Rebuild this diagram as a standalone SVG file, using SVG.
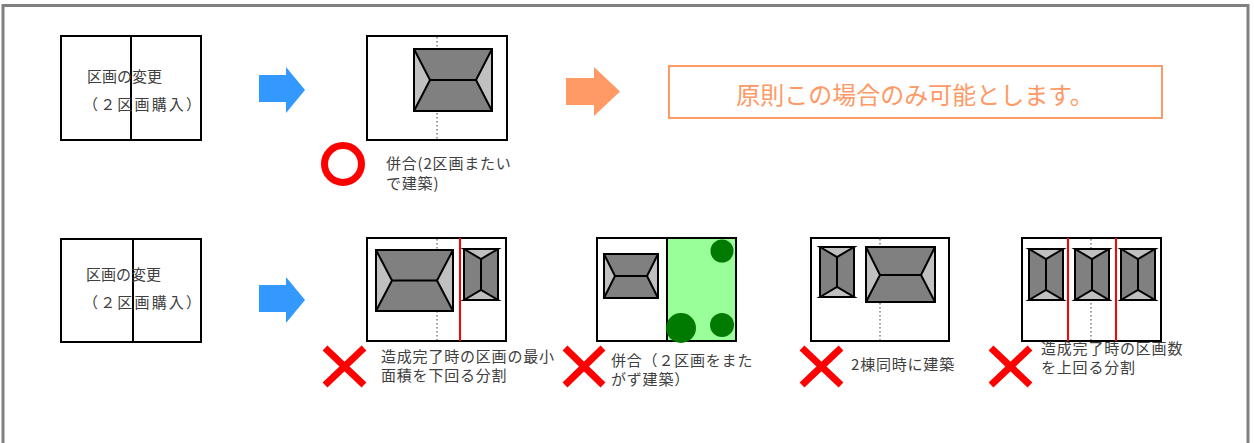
<svg xmlns="http://www.w3.org/2000/svg" width="1254" height="443" viewBox="0 0 1254 443">
  <style>
    .frame { fill: none; stroke: #808080; stroke-width: 3; }
    .lot { fill: #ffffff; stroke: #000000; stroke-width: 2; }
    .div { stroke: #000000; stroke-width: 2; }
    .dot { stroke: #808080; stroke-width: 1.5; stroke-dasharray: 1.5 2.5; }
    .red { stroke: #ff0000; stroke-width: 2; }
    .roof { fill: #808080; stroke: #000000; stroke-width: 2; }
    .hip { fill: #c0c0c0; stroke: #000000; stroke-width: 2; stroke-linejoin: miter; }
    .ridge { stroke: #000000; stroke-width: 2; fill: none; }
    .txt { font-family: "Noto Sans CJK JP", "Noto Sans", sans-serif; fill: #404040; }
    .cap { font-size: 15px; letter-spacing: 0.8px; }
    .lbl { font-size: 15px; }
    .ng { stroke: #ff0000; stroke-width: 7; fill: none; }
    .blue { fill: #3399ff; }
    .orange { fill: #ff9966; }
    .tree { fill: #007a00; }
  </style>

  <!-- outer frame (bottom edge runs past the canvas) -->
  <rect class="frame" x="3" y="5.5" width="1245" height="470"/>

  <!-- ===== row 1 ===== -->
  <g id="lot-change-1">
    <rect class="lot" x="61" y="36" width="140" height="104"/>
    <line class="div" x1="131" y1="36" x2="131" y2="140"/>
    <text class="txt lbl" x="87" y="82">区画の変更</text>
    <text class="txt lbl" x="83" y="110" textLength="118" lengthAdjust="spacing">（２区画購入）</text>
  </g>

  <g id="merged-build">
    <rect class="lot" x="367" y="36" width="140" height="104"/>
    <line class="dot" x1="437" y1="37" x2="437" y2="139"/>
    <rect class="roof" x="414" y="49" width="78" height="62"/>
    <polygon class="hip" points="414,49 430,80 414,111"/>
    <polygon class="hip" points="492,49 476,80 492,111"/>
    <line class="ridge" x1="430" y1="80" x2="476" y2="80"/>
  </g>

  <g id="ok-mark">
    <circle cx="343" cy="164" r="18.5" fill="none" stroke="#ff0000" stroke-width="7"/>
    <text class="txt cap" x="386" y="169">併合(2区画またい</text>
    <text class="txt cap" x="386" y="189">で建築)</text>
  </g>

  <g id="rule-box">
    <rect x="669" y="66" width="493" height="52" fill="#ffffff" stroke="#ff9966" stroke-width="2"/>
    <text x="915" y="104" text-anchor="middle" font-family="Noto Sans CJK JP, Noto Sans, sans-serif" font-size="24" fill="#ff9966">原則この場合のみ可能とします。</text>
  </g>

  <!-- ===== row 2 ===== -->
  <g id="lot-change-2">
    <rect class="lot" x="61" y="239" width="140" height="103"/>
    <line class="div" x1="133" y1="239" x2="133" y2="342"/>
    <text class="txt lbl" x="86" y="280">区画の変更</text>
    <text class="txt lbl" x="83" y="308" textLength="118" lengthAdjust="spacing">（２区画購入）</text>
  </g>

  <g id="case-min-area">
    <rect class="lot" x="367" y="238" width="139" height="103"/>
    <line class="dot" x1="437" y1="239" x2="437" y2="340"/>
    <line class="red" x1="460" y1="238" x2="460" y2="341"/>
    <rect class="roof" x="376" y="250" width="77" height="61"/>
    <polygon class="hip" points="376,250 392,280.5 376,311"/>
    <polygon class="hip" points="453,250 437,280.5 453,311"/>
    <line class="ridge" x1="392" y1="280.5" x2="437" y2="280.5"/>
    <rect class="roof" x="464" y="249" width="34" height="51"/>
    <polygon class="hip" points="464,249 481,259 498,249"/>
    <polygon class="hip" points="464,300 481,290 498,300"/>
    <line class="ridge" x1="481" y1="259" x2="481" y2="290"/>
  </g>

  <g id="case-merge-straddle">
    <rect x="667" y="238" width="69" height="103" fill="#99ff99"/>
    <rect x="597" y="238" width="139" height="103" fill="none" stroke="#000000" stroke-width="2"/>
    <line class="div" x1="667" y1="238" x2="667" y2="341"/>
    <rect class="roof" x="604" y="254" width="54" height="44"/>
    <polygon class="hip" points="604,254 615,276 604,298"/>
    <polygon class="hip" points="658,254 647,276 658,298"/>
    <line class="ridge" x1="615" y1="276" x2="647" y2="276"/>
    <circle class="tree" cx="722" cy="251" r="11.5"/>
    <circle class="tree" cx="681" cy="328" r="15"/>
    <circle class="tree" cx="722" cy="325" r="12"/>
  </g>

  <g id="case-two-houses">
    <rect class="lot" x="811" y="238" width="138" height="103"/>
    <line class="dot" x1="880" y1="239" x2="880" y2="340"/>
    <rect class="roof" x="820" y="247" width="34" height="50"/>
    <polygon class="hip" points="820,247 837,257 854,247"/>
    <polygon class="hip" points="820,297 837,287 854,297"/>
    <line class="ridge" x1="837" y1="257" x2="837" y2="287"/>
    <rect class="roof" x="866" y="247" width="69" height="55"/>
    <polygon class="hip" points="866,247 880,275 866,302"/>
    <polygon class="hip" points="935,247 921,275 935,302"/>
    <line class="ridge" x1="880" y1="275" x2="921" y2="275"/>
  </g>

  <g id="case-too-many">
    <rect class="lot" x="1022" y="238" width="139" height="103"/>
    <line class="dot" x1="1091" y1="239" x2="1091" y2="340"/>
    <line class="red" x1="1068" y1="238" x2="1068" y2="341"/>
    <line class="red" x1="1116" y1="238" x2="1116" y2="341"/>
    <rect class="roof" x="1029" y="249" width="34" height="51"/>
    <polygon class="hip" points="1029,249 1046,259 1063,249"/>
    <polygon class="hip" points="1029,300 1046,290 1063,300"/>
    <line class="ridge" x1="1046" y1="259" x2="1046" y2="290"/>
    <rect class="roof" x="1075" y="249" width="34" height="51"/>
    <polygon class="hip" points="1075,249 1092,259 1109,249"/>
    <polygon class="hip" points="1075,300 1092,290 1109,300"/>
    <line class="ridge" x1="1092" y1="259" x2="1092" y2="290"/>
    <rect class="roof" x="1121" y="249" width="34" height="51"/>
    <polygon class="hip" points="1121,249 1138,259 1155,249"/>
    <polygon class="hip" points="1121,300 1138,290 1155,300"/>
    <line class="ridge" x1="1138" y1="259" x2="1138" y2="290"/>
  </g>

  <!-- NG marks and captions -->
  <g id="ng-1">
    <path class="ng" d="M325,348 L364,385 M364,348 L325,385"/>
    <text class="txt cap" x="381" y="362">造成完了時の区画の最小</text>
    <text class="txt cap" x="381" y="381">面積を下回る分割</text>
  </g>
  <g id="ng-2">
    <path class="ng" d="M565,348 L603,385 M603,348 L565,385"/>
    <text class="txt cap" x="611" y="366">併合（２区画をまた</text>
    <text class="txt cap" x="611" y="385">がず建築）</text>
  </g>
  <g id="ng-3">
    <path class="ng" d="M802,348 L841,385 M841,348 L802,385"/>
    <text class="txt cap" x="851" y="370">2棟同時に建築</text>
  </g>
  <g id="ng-4">
    <path class="ng" d="M991,348 L1030,385 M1030,348 L991,385"/>
    <text class="txt cap" x="1041" y="354">造成完了時の区画数</text>
    <text class="txt cap" x="1041" y="373">を上回る分割</text>
  </g>

  <!-- connectors: block arrows -->
  <g id="connectors">
    <polygon class="blue" points="259,75 286,75 286,67 305,90 286,113 286,102 259,102"/>
    <polygon class="orange" points="566,78 594,78 594,67 620,91.5 594,116 594,105 566,105"/>
    <polygon class="blue" points="259,285 286,285 286,277 305,300 286,323 286,312 259,312"/>
  </g>
</svg>
